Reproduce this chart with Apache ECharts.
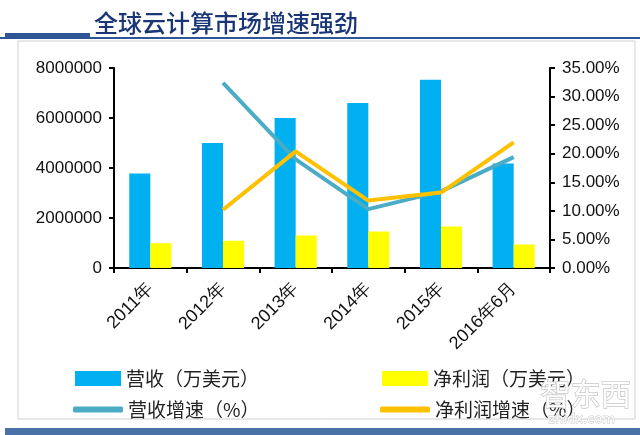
<!DOCTYPE html>
<html lang="zh">
<head>
    <meta charset="UTF-8">
    <title>全球云计算市场增速强劲</title>
    <script src="https://cdn.jsdelivr.net/npm/echarts@6/dist/echarts.min.js"></script>
    <style>
        html, body { margin: 0; padding: 0; background: #fff; }
        #main { width: 640px; height: 435px; }
    </style>
</head>
<body>
<div id="main"></div>
<script>
    // 数据
    var years = ['2011年', '2012年', '2013年', '2014年', '2015年', '2016年6月'];
    var revenue = [3780000, 5000000, 6000000, 6600000, 7530000, 4180000];   // 营收（万美元）
    var profit = [990000, 1090000, 1300000, 1460000, 1660000, 940000];      // 净利润（万美元）
    var revenueGrowth = ['-', 32.4, 19.0, 10.3, 13.4, 19.4];                 // 营收增速（%）
    var profitGrowth = ['-', 10.2, 20.4, 11.8, 13.2, 22.0];                  // 净利润增速（%）

    var font = 'Liberation Sans, Arial, sans-serif';
    var cjk = 'Noto Sans CJK SC';

    var myChart = echarts.init(document.getElementById('main'));

    function legendAt(name, left, top, w, h, icon) {
        return {
            data: [name],
            left: left,
            top: top,
            icon: icon,
            itemWidth: w,
            itemHeight: h,
            itemGap: 4,
            textStyle: { fontFamily: cjk, fontSize: 19, color: '#222' }
        };
    }

    var option = {
        backgroundColor: '#fff',
        animation: false,
        title: {
            text: '全球云计算市场增速强劲',
            left: 89,
            top: 6,
            textStyle: {
                fontFamily: cjk,
                fontSize: 24,
                fontWeight: 500,
                color: '#1a3677'
            }
        },
        graphic: [
            { type: 'rect', shape: { x: 5, y: 33, width: 85, height: 6 }, style: { fill: '#2f5597' } },
            { type: 'rect', shape: { x: 0, y: 37, width: 640, height: 2 }, style: { fill: '#2f5597' } },
            { type: 'rect', shape: { x: 18, y: 41, width: 617, height: 378 }, style: { fill: 'none', stroke: '#d0d0d0', lineWidth: 1 } },
            { type: 'rect', shape: { x: 5, y: 428, width: 635, height: 7 }, style: { fill: '#4a72a8' } },
            { type: 'text', left: 540, top: 378, z: 10, style: { text: '智东西', fill: '#fff', stroke: '#c8c8c8', lineWidth: 1.5, font: '30px Noto Sans CJK SC' } },
            { type: 'text', left: 548, top: 413, z: 10, style: { text: 'zhidx.com', fill: '#fff', stroke: '#c8c8c8', lineWidth: 1, font: '13px DejaVu Sans' } }
        ],
        legend: [
            legendAt('营收（万美元）', 70, 364, 46, 15, 'rect'),
            legendAt('净利润（万美元）', 377, 364, 46, 15, 'rect'),
            legendAt('营收增速（%）', 68, 395, 50, 6, 'roundRect'),
            legendAt('净利润增速（%）', 375, 395, 50, 6, 'roundRect')
        ],
        grid: {
            left: 114,
            right: 90,
            top: 68,
            bottom: 167
        },
        xAxis: {
            type: 'category',
            data: years,
            axisLine: { lineStyle: { color: '#000', width: 2 } },
            axisTick: { show: true, length: 5, lineStyle: { color: '#000', width: 2 } },
            axisLabel: {
                rotate: 45,
                margin: 18,
                color: '#111',
                fontFamily: font,
                fontSize: 18
            }
        },
        yAxis: [
            {
                type: 'value',
                min: 0,
                max: 8000000,
                interval: 2000000,
                splitLine: { show: false },
                axisLine: { show: true, lineStyle: { color: '#000', width: 2 } },
                axisTick: { show: true, length: 5, lineStyle: { color: '#000', width: 2 } },
                axisLabel: {
                    color: '#111',
                    fontFamily: font,
                    fontSize: 17,
                    margin: 12,
                    formatter: function (v) { return String(v); }
                }
            },
            {
                type: 'value',
                min: 0,
                max: 35,
                interval: 5,
                splitLine: { show: false },
                axisLine: { show: true, lineStyle: { color: '#000', width: 2 } },
                axisTick: { show: true, length: 5, lineStyle: { color: '#000', width: 2 } },
                axisLabel: {
                    color: '#111',
                    fontFamily: font,
                    fontSize: 17,
                    margin: 12,
                    formatter: function (v) { return v.toFixed(2) + '%'; }
                }
            }
        ],
        series: [
            {
                name: '营收（万美元）',
                type: 'bar',
                data: revenue,
                barGap: '0%',
                barCategoryGap: '42%',
                itemStyle: { color: '#00b0f0' }
            },
            {
                name: '净利润（万美元）',
                type: 'bar',
                data: profit,
                itemStyle: { color: '#ffff00' }
            },
            {
                name: '营收增速（%）',
                type: 'line',
                yAxisIndex: 1,
                data: revenueGrowth,
                symbol: 'none',
                lineStyle: { color: '#4bacc6', width: 4 },
                itemStyle: { color: '#4bacc6' }
            },
            {
                name: '净利润增速（%）',
                type: 'line',
                yAxisIndex: 1,
                data: profitGrowth,
                symbol: 'none',
                lineStyle: { color: '#ffc000', width: 4 },
                itemStyle: { color: '#ffc000' }
            }
        ]
    };
    myChart.setOption(option);
</script>
</body>
</html>
